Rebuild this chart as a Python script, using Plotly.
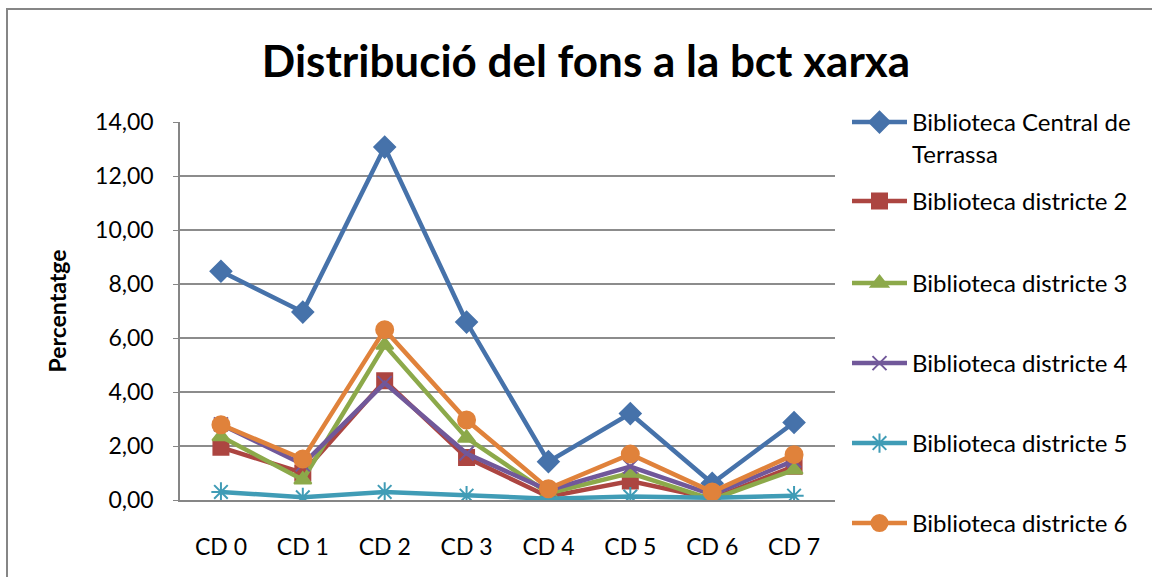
import plotly.graph_objects as go

categories = ["CD 0", "CD 1", "CD 2", "CD 3", "CD 4", "CD 5", "CD 6", "CD 7"]

central = [8.47, 6.96, 13.07, 6.59, 1.42, 3.20, 0.62, 2.87]
districte2 = [1.95, 1.00, 4.42, 1.57, 0.12, 0.70, 0.05, 1.25]
districte3 = [2.35, 0.75, 5.74, 2.30, 0.25, 1.00, 0.02, 1.12]
districte4 = [2.80, 1.32, 4.33, 1.72, 0.36, 1.24, 0.20, 1.46]
districte5 = [0.30, 0.10, 0.30, 0.16, 0.05, 0.13, 0.08, 0.16]
districte6 = [2.79, 1.52, 6.31, 2.96, 0.42, 1.70, 0.30, 1.68]

series_names = [
    "Biblioteca Central de<br>Terrassa",
    "Biblioteca districte 2",
    "Biblioteca districte 3",
    "Biblioteca districte 4",
    "Biblioteca districte 5",
    "Biblioteca districte 6",
]
series_values = [central, districte2, districte3, districte4, districte5, districte6]
colors = ["#4672AA", "#AC4541", "#8CA94A", "#71589A", "#409CB6", "#E0823B"]
symbols = ["diamond", "square", "triangle-up", "x-thin-open", "asterisk-open", "circle"]
msizes = [16, 15, 15, 14, 16, 17]
legend_ids = ["legend", "legend2", "legend3", "legend4", "legend5", "legend6"]
legend_py = [122, 201, 283, 363, 443, 523]

FONT = "Lato"
L, R, T, B = 180, 835, 122, 500
W, H = 1152, 577
pw, ph = R - L, B - T

fig = go.Figure()
for name, vals, col, sym, ms, lg in zip(series_names, series_values, colors, symbols, msizes, legend_ids):
    fig.add_trace(go.Scatter(
        x=categories, y=vals, name=name, mode="lines+markers",
        line=dict(color=col, width=4.5),
        marker=dict(symbol=sym, size=ms, color=col, line=dict(color=col, width=2)),
        legend=lg,
    ))

layout_legends = {}
for lg, py in zip(legend_ids, legend_py):
    layout_legends[lg] = dict(
        x=(847 - L) / pw, xanchor="left",
        y=(B - py + 22) / ph, yanchor="top",
        font=dict(family=FONT, size=24, color="#000000"),
        itemwidth=55, valign="top",
        bgcolor="rgba(0,0,0,0)", borderwidth=0,
    )

fig.update_layout(
    width=W, height=H,
    margin=dict(l=L, r=W - R, t=T, b=H - B, pad=0),
    paper_bgcolor="white", plot_bgcolor="white",
    separators=",.",
    showlegend=True,
    title=dict(
        text="<b>Distribució del fons a la bct xarxa</b>",
        font=dict(family=FONT, size=44, color="#000000"),
        x=586 / W, xanchor="center", y=1 - 62 / H, yanchor="middle",
    ),
    xaxis=dict(
        type="category", range=[-0.5, 7.5],
        showline=True, linecolor="#868686", linewidth=1.5,
        showgrid=False, zeroline=False,
        ticks="outside", ticklen=26, tickcolor="rgba(0,0,0,0)",
        tickfont=dict(family=FONT, size=23, color="#000000"),
    ),
    yaxis=dict(
        range=[0, 14], dtick=2, tickformat=".2f",
        showline=True, linecolor="#868686", linewidth=1.5,
        showgrid=True, gridcolor="#8C8C8C", gridwidth=1.5,
        zeroline=False,
        ticks="outside", ticklen=5, tickcolor="#868686",
        ticklabelstandoff=15,
        tickfont=dict(family=FONT, size=23, color="#000000"),
        title=dict(text="<b>Percentatge</b>", font=dict(family=FONT, size=23, color="#000000"), standoff=22),
    ),
    shapes=[dict(
        type="rect", xref="paper", yref="paper",
        x0=(7 - L) / pw, x1=(1200 - L) / pw,
        y0=(B - 640) / ph, y1=(B - 9) / ph,
        line=dict(color="#868686", width=2), fillcolor="rgba(0,0,0,0)", layer="below",
    )],
    **layout_legends,
)

fig.write_html("out.html", config={"displayModeBar": False},
               post_script="document.body.style.margin='0px';")
